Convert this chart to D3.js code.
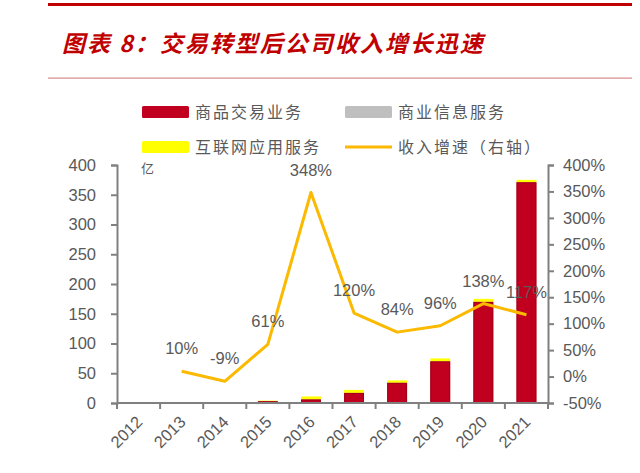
<!DOCTYPE html>
<html>
<head>
<meta charset="utf-8">
<script src="https://cdn.jsdelivr.net/npm/d3@7"></script>
<style>
body { margin: 0; background: #fff; }
svg text { font-family: "Liberation Sans", Arial, sans-serif; }
.cjk { font-family: "Noto Sans CJK SC", sans-serif; }
</style>
</head>
<body>
<script>
// data
var years = ["2012","2013","2014","2015","2016","2017","2018","2019","2020","2021"];
var trade = [0, 0, 0, 3, 6, 17, 34, 70, 170, 371];      // 商品交易业务
var info = [1.5, 1.5, 0, 0, 0, 0, 0, 0, 0, 0];          // 商业信息服务
var internet = [0, 0, 1.5, 1, 5, 5, 4, 5, 5, 4];        // 互联网应用服务
var growth = [null, 10, -9, 61, 348, 120, 84, 96, 138, 117]; // 收入增速
var leftTicks = [0, 50, 100, 150, 200, 250, 300, 350, 400];
var rightTicks = [-50, 0, 50, 100, 150, 200, 250, 300, 350, 400];

var W = 640, H = 473;
var pLeft = 117, pRight = 548, pTop = 165, pBottom = 403;
var gray = "#595959", axisCol = "#808080";

var svg = d3.select("body").append("svg")
    .attr("width", W).attr("height", H);

//Header lines and title
svg.append("rect").attr("x", 48).attr("y", 3).attr("width", 584).attr("height", 3).attr("fill", "#c00000");
svg.append("rect").attr("x", 48).attr("y", 77.5).attr("width", 584).attr("height", 1.2).attr("fill", "#d88a8a");
svg.append("text")
    .attr("class", "cjk")
    .attr("x", 62).attr("y", 52)
    .attr("fill", "#c00000")
    .attr("font-size", "23px")
    .attr("font-weight", "bold")
    .attr("font-style", "italic")
    .attr("letter-spacing", "2px")
    .text("图表 8：交易转型后公司收入增长迅速");

//Scales
var x = d3.scaleBand().domain(years).range([pLeft, pRight]).paddingInner(0.54).paddingOuter(0.27);
var xb = d3.scaleBand().domain(years).range([pLeft, pRight]);
var yL = d3.scaleLinear().domain([0, 400]).range([pBottom, pTop]);
var yR = d3.scaleLinear().domain([-50, 400]).range([pBottom, pTop]);

//Stacked bars
var stackData = years.map(function(y, i) {
    return {year: y, trade: trade[i], info: info[i], internet: internet[i]};
});
var keys = ["trade", "info", "internet"];
var colors = {trade: "#c0001e", info: "#bfbfbf", internet: "#ffff00"};
var series = d3.stack().keys(keys)(stackData);

svg.selectAll(".layer")
    .data(series)
    .enter().append("g")
    .attr("class", "layer")
    .attr("fill", function(d) { return colors[d.key]; })
    .selectAll("rect")
    .data(function(d) { return d; })
    .enter().append("rect")
    .attr("x", function(d) { return x(d.data.year); })
    .attr("width", x.bandwidth())
    .attr("y", function(d) { return yL(d[1]); })
    .attr("height", function(d) { return Math.max(0, yL(d[0]) - yL(d[1])); });

// darker edge on the red bars
svg.selectAll(".edge")
    .data(stackData.filter(function(d) { return d.trade > 0; }))
    .enter().append("rect")
    .attr("x", function(d) { return x(d.year) + 0.5; })
    .attr("width", x.bandwidth() - 1)
    .attr("y", function(d) { return yL(d.trade) + 0.5; })
    .attr("height", function(d) { return yL(0) - yL(d.trade) - 0.5; })
    .attr("fill", "none")
    .attr("stroke", "#a00018")
    .attr("stroke-width", 1);

//Axes
var gL = svg.append("g")
    .attr("transform", "translate(" + pLeft + ",0)")
    .call(d3.axisLeft(yL).tickValues(leftTicks).tickSize(6).tickPadding(15));
var gR = svg.append("g")
    .attr("transform", "translate(" + pRight + ",0)")
    .call(d3.axisRight(yR).tickValues(rightTicks).tickSize(6).tickPadding(9)
        .tickFormat(function(d) { return d + "%"; }));
var gX = svg.append("g")
    .attr("transform", "translate(0," + pBottom + ")")
    .call(d3.axisBottom(xb).tickSize(0).tickPadding(10));

[gL, gR, gX].forEach(function(g) {
    g.select(".domain").attr("stroke", axisCol).attr("stroke-width", 2);
    g.selectAll(".tick line").attr("stroke", axisCol).attr("stroke-width", 2);
    g.selectAll("text").attr("fill", gray).attr("font-size", "16.5px")
        .attr("font-family", "Liberation Sans, Arial, sans-serif");
});
gX.select(".domain").attr("d", "M" + pLeft + ",0H" + pRight);

// x ticks at category boundaries
var bounds = years.map(function(y) { return xb(y); }).concat([pRight]);
gX.selectAll(".bound")
    .data(bounds)
    .enter().append("line")
    .attr("x1", function(d) { return d; }).attr("x2", function(d) { return d; })
    .attr("y1", 0).attr("y2", 6)
    .attr("stroke", axisCol).attr("stroke-width", 2);

gX.selectAll(".tick text")
    .attr("text-anchor", "end")
    .attr("y", 0)
    .attr("dy", 0)
    .attr("transform", "translate(5,20) rotate(-45)");

//Growth line (right axis)
var pts = years.map(function(y, i) { return {year: y, v: growth[i]}; })
    .filter(function(d) { return d.v !== null; });
var line = d3.line()
    .x(function(d) { return xb(d.year) + xb.bandwidth() / 2; })
    .y(function(d) { return yR(d.v); });

svg.append("path")
    .datum(pts)
    .attr("d", line)
    .attr("fill", "none")
    .attr("stroke", "#fbb900")
    .attr("stroke-width", 3)
    .attr("stroke-linejoin", "round");

svg.selectAll(".lbl")
    .data(pts)
    .enter().append("text")
    .attr("class", "lbl")
    .attr("x", function(d) { return xb(d.year) + xb.bandwidth() / 2; })
    .attr("y", function(d) { return yR(d.v) - 17; })
    .attr("text-anchor", "middle")
    .attr("fill", gray)
    .attr("font-size", "16.5px")
    .text(function(d) { return d.v + "%"; });

// unit
svg.append("text").attr("class", "cjk")
    .attr("x", 141).attr("y", 173)
    .attr("fill", gray).attr("font-size", "13px")
    .text("亿");

//Legend
var legend = [
    {name: "商品交易业务", type: "rect", color: "#c0001e", x: 142, y: 112},
    {name: "商业信息服务", type: "rect", color: "#bfbfbf", x: 345, y: 112},
    {name: "互联网应用服务", type: "rect", color: "#ffff00", x: 142, y: 147},
    {name: "收入增速（右轴）", type: "line", color: "#fbb900", x: 345, y: 147}
];
var lg = svg.selectAll(".legend")
    .data(legend)
    .enter().append("g")
    .attr("transform", function(d) { return "translate(" + d.x + "," + d.y + ")"; });
lg.filter(function(d) { return d.type === "rect"; })
    .append("rect")
    .attr("x", 0).attr("y", -6).attr("width", 47).attr("height", 12)
    .attr("rx", 1.5)
    .attr("fill", function(d) { return d.color; });
lg.filter(function(d) { return d.type === "line"; })
    .append("line")
    .attr("x1", 0).attr("x2", 47).attr("y1", 0).attr("y2", 0)
    .attr("stroke", function(d) { return d.color; })
    .attr("stroke-width", 3);
lg.append("text")
    .attr("class", "cjk")
    .attr("x", 53).attr("y", 0).attr("dy", "0.35em")
    .attr("fill", gray)
    .attr("font-size", "16px")
    .attr("letter-spacing", "2px")
    .text(function(d) { return d.name; });
</script>
</body>
</html>
